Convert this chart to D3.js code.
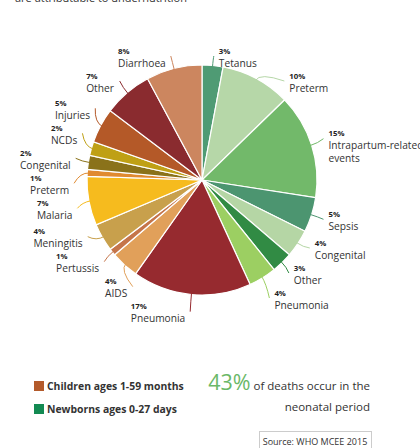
<!DOCTYPE html>
<html>
<head>
<meta charset="utf-8">
<script src="https://cdn.jsdelivr.net/npm/d3@7"></script>
<style>
  body { margin: 0; background: #fff; }
  svg { font-family: "Open Sans", sans-serif; display: block; }
</style>
</head>
<body>
<script>
// causes of death, clockwise from 12 o'clock (newborns first, then children)
var causes = ['Tetanus', 'Preterm', 'Intrapartum-related\nevents', 'Sepsis', 'Congenital', 'Other', 'Pneumonia',
              'Pneumonia', 'AIDS', 'Pertussis', 'Meningitis', 'Malaria', 'Preterm', 'Congenital', 'NCDs', 'Injuries', 'Other', 'Diarrhoea'];
var shares = [3, 10, 15, 5, 4, 3, 4,
              17, 4, 1, 4, 7, 1, 2, 2, 5, 7, 8];
var sliceColors = ['#4f9b74', '#b6d7a8', '#72b96a', '#4c9570', '#b5d6a5', '#318b44', '#9ccf62',
                   '#962a2f', '#e1a05a', '#c5754a', '#c8a04c', '#f6bb1e', '#e08a30', '#8a721a', '#bfa015', '#b45928', '#8a2b2f', '#cc865f'];
var groupNames = ['Children ages 1-59 months', 'Newborns ages 0-27 days'];
var groupColors = ['#b35a2b', '#138a52'];

var w = 420, h = 448;
var cx = 202, cy = 180, r = 115;

var svg = d3.select('body').append('svg')
  .attr('width', w)
  .attr('height', h);

// leftover line of the paragraph above, cut by the frame
svg.append('text')
  .attr('x', 15).attr('y', 2)
  .attr('font-size', 11)
  .attr('fill', '#333')
  .text('are attributable to undernutrition');

var data = causes.map(function (c, i) {
  return { name: c, v: shares[i], color: sliceColors[i] };
});

var pie = d3.pie().sort(null).value(function (d) { return d.v; });
var arcs = pie(data);
var arc = d3.arc().innerRadius(0).outerRadius(r);

var g = svg.append('g').attr('transform', 'translate(' + cx + ',' + cy + ')');
g.selectAll('path')
  .data(arcs)
  .enter()
  .append('path')
  .attr('d', arc)
  .attr('fill', function (d) { return d.data.color; })
  .attr('stroke', '#fff')
  .attr('stroke-width', 1.2);

// label layout: natural spot on a ring, then push apart on each side
var ringY = 133, ringX = 128, minY = 57;
arcs.forEach(function (d) {
  d.mid = (d.startAngle + d.endAngle) / 2;
  d.side = Math.sin(d.mid) >= 0 ? 1 : -1;
  d.ny = cy - ringY * Math.cos(d.mid);
  d.lines = d.data.name.split('\n');
  d.up = 12.5;
  d.down = 12.5 + 13 * (d.lines.length - 1);
});

function place(c) {
  var off = 0, offs = [];
  c.items.forEach(function (it, i) {
    if (i > 0) off += c.items[i - 1].down + it.up;
    offs.push(off);
  });
  var start = d3.mean(c.items, function (it, i) { return it.ny - offs[i]; });
  start = Math.max(start, minY);
  c.items.forEach(function (it, i) { it.y = start + offs[i]; });
}

function relax(items) {
  items.sort(function (a, b) { return a.ny - b.ny; });
  var clusters = [];
  items.forEach(function (it) {
    var c = { items: [it] };
    place(c);
    clusters.push(c);
    while (clusters.length > 1) {
      var b = clusters[clusters.length - 1], a = clusters[clusters.length - 2];
      var last = a.items[a.items.length - 1], first = b.items[0];
      if (last.y + last.down + first.up > first.y) {
        a.items = a.items.concat(b.items);
        clusters.pop();
        place(a);
      } else break;
    }
  });
}
relax(arcs.filter(function (d) { return d.side > 0; }));
relax(arcs.filter(function (d) { return d.side < 0; }));

arcs.forEach(function (d) {
  var dy = d.y - cy;
  var dx = Math.abs(dy) < 0.9 * ringX ? Math.sqrt(ringX * ringX - dy * dy) : Math.abs(ringX * Math.sin(d.mid));
  d.ex = cx + d.side * dx;
  d.ey = d.y - 1;
});

// leader lines
svg.selectAll('path.leader')
  .data(arcs)
  .enter()
  .append('path')
  .attr('class', 'leader')
  .attr('fill', 'none')
  .attr('stroke', function (d) { return d.data.color; })
  .attr('stroke-width', 1)
  .attr('d', function (d) {
    var x0 = cx + (r - 2) * Math.sin(d.mid), y0 = cy - (r - 2) * Math.cos(d.mid);
    var x1 = cx + (r + 7) * Math.sin(d.mid), y1 = cy - (r + 7) * Math.cos(d.mid);
    return 'M' + x0 + ',' + y0 + 'Q' + x1 + ',' + y1 + ' ' + d.ex + ',' + d.ey;
  });

// label blocks
var labels = svg.selectAll('g.label')
  .data(arcs)
  .enter()
  .append('g')
  .attr('class', 'label');

labels.append('text')
  .attr('y', function (d) { return d.y - 6; })
  .attr('dy', '0.35em')
  .attr('font-size', 7.8)
  .attr('font-weight', 'bold')
  .attr('fill', '#222')
  .text(function (d) { return d.data.v + '%'; });

labels.each(function (d) {
  var sel = d3.select(this);
  d.lines.forEach(function (line, i) {
    sel.append('text')
      .attr('y', d.y + 6 + 13 * i)
      .attr('dy', '0.35em')
      .attr('font-size', 10.2)
      .attr('fill', '#333')
      .text(line);
  });
  var bw = this.getBBox().width;
  var x = d.side > 0 ? d.ex + 5 : d.ex - 5 - bw;
  sel.attr('transform', 'translate(' + x + ',0)');
});

// legend
var legend = svg.selectAll('g.legend')
  .data(groupNames)
  .enter()
  .append('g')
  .attr('class', 'legend')
  .attr('transform', function (d, i) { return 'translate(34,' + (381 + i * 23) + ')'; });
legend.append('rect')
  .attr('width', 10).attr('height', 10)
  .attr('fill', function (d, i) { return groupColors[i]; });
legend.append('text')
  .attr('x', 13).attr('y', 5)
  .attr('dy', '0.35em')
  .attr('font-size', 10.4)
  .attr('font-weight', 'bold')
  .attr('fill', '#333')
  .text(function (d) { return d; });

// neonatal share note
var neonatal = d3.sum(shares.slice(0, 7)) - 1;
var note = svg.append('text')
  .attr('x', 370).attr('y', 386)
  .attr('dy', '0.35em')
  .attr('text-anchor', 'end')
  .attr('fill', '#333')
  .attr('font-size', 11.5);
note.append('tspan')
  .attr('fill', '#6ab867')
  .attr('font-size', 21.5)
  .text(neonatal + '%');
note.append('tspan').text(' of deaths occur in the');
svg.append('text')
  .attr('x', 370).attr('y', 407)
  .attr('dy', '0.35em')
  .attr('text-anchor', 'end')
  .attr('fill', '#333')
  .attr('font-size', 11.5)
  .text('neonatal period');

// source box
svg.append('rect')
  .attr('x', 259.5).attr('y', 431.5)
  .attr('width', 112).attr('height', 20)
  .attr('fill', '#fff')
  .attr('stroke', '#ccc');
svg.append('text')
  .attr('x', 315).attr('y', 442)
  .attr('dy', '0.35em')
  .attr('text-anchor', 'middle')
  .attr('font-size', 9)
  .attr('fill', '#333')
  .text('Source: WHO MCEE 2015');
</script>
</body>
</html>
